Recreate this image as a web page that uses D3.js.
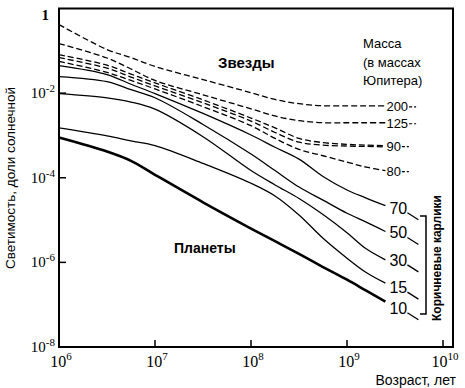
<!DOCTYPE html>
<html>
<head>
<meta charset="utf-8">
<script src="https://cdn.jsdelivr.net/npm/d3@7"></script>
<style>
  body { margin: 0; background: #fff; }
  svg text { fill: #000; }
</style>
</head>
<body>
<div class="container"></div>
<script>
var w = 465;
var h = 388;

// log10 of age (years) – shared sampling for all tracks
const logAge = [6, 6.5, 6.75, 7, 7.5, 8, 8.25, 8.5, 8.75, 9, 9.2, 9.4];

// log10 of luminosity (solar units), one array per mass
const m200 = [-0.38, -0.97, -1.16, -1.37, -1.68, -1.99, -2.15, -2.25, -2.30, -2.30, -2.30, -2.30];
const m125 = [-0.83, -1.17, -1.43, -1.70, -2.04, -2.37, -2.54, -2.65, -2.70, -2.70, -2.70, -2.70];
const m90a = [-1.09, -1.34, -1.55, -1.76, -2.16, -2.59, -2.82, -3.07, -3.17, -3.21, -3.23, -3.24];
const m90b = [-1.16, -1.41, -1.62, -1.83, -2.23, -2.66, -2.93, -3.16, -3.23, -3.25, -3.26, -3.27];
const m80  = [-1.25, -1.51, -1.70, -1.90, -2.32, -2.77, -3.07, -3.33, -3.48, -3.63, -3.75, -3.83];
const m70  = [-1.35, -1.56, -1.79, -2.01, -2.48, -2.99, -3.28, -3.56, -3.97, -4.29, -4.48, -4.66];
const m50  = [-1.61, -1.73, -1.92, -2.11, -2.74, -3.44, -3.83, -4.22, -4.53, -4.84, -5.05, -5.27];
const m30  = [-2.01, -2.11, -2.21, -2.38, -3.03, -3.83, -4.17, -4.49, -4.87, -5.30, -5.68, -5.94];
const m15  = [-2.82, -3.01, -3.13, -3.24, -3.66, -4.13, -4.43, -4.88, -5.43, -5.90, -6.24, -6.49];
const m10  = [-3.05, -3.38, -3.60, -3.93, -4.58, -5.20, -5.50, -5.80, -6.11, -6.41, -6.67, -6.93];

const dashedTracks = [["200", m200], ["125", m125], ["90", m90a], ["", m90b], ["80", m80]];
const solidTracks = [["70", m70], ["50", m50], ["30", m30], ["15", m15], ["10", m10]];

const xTickExp = [6, 7, 8, 9, 10];
const yTickExp = [0, -2, -4, -6, -8];

var plotL = 59, plotR = 453, plotT = 8.5, plotB = 347;

var svg = d3.select(".container").append("svg")
  .attr("width", w).attr("height", h);

var xScale = d3.scaleLog().domain([1e6, Math.pow(10, 10.104)]).range([plotL, plotR]);
var yScale = d3.scaleLog().domain([1, 1e-8]).range([plotT, plotB]);

var line = d3.line()
  .x(d => xScale(Math.pow(10, d[0])))
  .y(d => yScale(Math.pow(10, d[1])))
  .curve(d3.curveCatmullRom.alpha(0.5));

function pts(vals) { return logAge.map((a, i) => [a, vals[i]]); }

// frame
svg.append("rect")
  .attr("x", plotL).attr("y", plotT)
  .attr("width", plotR - plotL).attr("height", plotB - plotT)
  .attr("fill", "none").attr("stroke", "#000").attr("stroke-width", 2);

// ticks (inward)
svg.append("g").selectAll("line").data(yTickExp.slice(1, 4)).enter().append("line")
  .attr("x1", plotL).attr("x2", plotL + 7)
  .attr("y1", d => yScale(Math.pow(10, d))).attr("y2", d => yScale(Math.pow(10, d)))
  .attr("stroke", "#000").attr("stroke-width", 1.5);

svg.append("g").selectAll("line").data(xTickExp.slice(1)).enter().append("line")
  .attr("x1", d => xScale(Math.pow(10, d))).attr("x2", d => xScale(Math.pow(10, d)))
  .attr("y1", plotB).attr("y2", plotB - 7)
  .attr("stroke", "#000").attr("stroke-width", 1.5);

// tick labels
var serif = "'Liberation Serif', 'Times New Roman', serif";
yTickExp.forEach(function (e) {
  var y = yScale(Math.pow(10, e));
  if (e === 0) {
    svg.append("text").attr("x", 49).attr("y", 20).attr("text-anchor", "end")
      .attr("font-family", serif).attr("font-size", 15).attr("font-weight", "bold").text("1");
    return;
  }
  var t = svg.append("text").attr("x", 55).attr("y", y + 5).attr("text-anchor", "end")
    .attr("font-family", serif).attr("font-size", 15);
  t.append("tspan").text("10");
  t.append("tspan").attr("dy", -6).attr("font-size", 11).text("-" + Math.abs(e));
});
xTickExp.forEach(function (e) {
  var x = xScale(Math.pow(10, e));
  var t = svg.append("text").attr("x", x + 2).attr("y", 367).attr("text-anchor", "middle")
    .attr("font-family", serif).attr("font-size", 16);
  t.append("tspan").text("10");
  t.append("tspan").attr("dy", -7).attr("font-size", 11).text(e);
});

// tracks
var sans = "'Liberation Sans', Arial, sans-serif";
var narrow = "'Liberation Sans Narrow', 'Liberation Sans', Arial, sans-serif";

dashedTracks.forEach(function (t) {
  svg.append("path").attr("d", line(pts(t[1])))
    .attr("fill", "none").attr("stroke", "#000").attr("stroke-width", 1.3)
    .attr("stroke-dasharray", "6,3");
  if (!t[0]) return;
  var xe = xScale(Math.pow(10, logAge[logAge.length - 1]));
  var ye = yScale(Math.pow(10, t[1][t[1].length - 1]));
  var lab = svg.append("text").attr("x", xe + 1).attr("y", ye + 5)
    .attr("font-family", sans).attr("font-size", 13).text(t[0]);
  var lw = lab.node().getComputedTextLength();
  svg.append("line").attr("x1", xe + lw + 2).attr("x2", xe + lw + 9)
    .attr("y1", ye + 1).attr("y2", ye + 1)
    .attr("stroke", "#000").attr("stroke-width", 1.2).attr("stroke-dasharray", "3,2");
});

const solidLabelShift = [2, 1, 0, 4, 6];
solidTracks.forEach(function (t, i) {
  svg.append("path").attr("d", line(pts(t[1])))
    .attr("fill", "none").attr("stroke", "#000")
    .attr("stroke-width", t[0] === "10" ? 2.6 : 1.3);
  var xe = xScale(Math.pow(10, logAge[logAge.length - 1]));
  var c = yScale(Math.pow(10, t[1][t[1].length - 1])) + solidLabelShift[i];
  svg.append("text").attr("x", xe + 4).attr("y", c + 6)
    .attr("font-family", narrow).attr("font-size", 16).text(t[0]);
  svg.append("line").attr("x1", xe + 22).attr("y1", c + 5)
    .attr("x2", xe + 33).attr("y2", c + 12)
    .attr("stroke", "#000").attr("stroke-width", 1.3);
});

// bracket for brown dwarfs
svg.append("path")
  .attr("d", "M420,216 H426 V314 H420")
  .attr("fill", "none").attr("stroke", "#000").attr("stroke-width", 1.5);

svg.append("text")
  .attr("transform", "translate(441,258) rotate(-90)")
  .attr("text-anchor", "middle")
  .attr("font-family", sans).attr("font-size", 12).attr("font-weight", "bold")
  .text("Коричневые карлики");

// annotations
svg.append("text").attr("x", 218).attr("y", 68)
  .attr("font-family", sans).attr("font-size", 15).attr("font-weight", "bold").text("Звезды");
svg.append("text").attr("x", 174).attr("y", 253)
  .attr("font-family", sans).attr("font-size", 14).attr("font-weight", "bold").text("Планеты");

["Масса", "(в массах", "Юпитера)"].forEach(function (s, i) {
  svg.append("text").attr("x", 363).attr("y", [48, 67, 85][i])
    .attr("font-family", sans).attr("font-size", 13).text(s);
});

// axis titles
svg.append("text").attr("x", 456).attr("y", 385).attr("text-anchor", "end")
  .attr("font-family", sans).attr("font-size", 14).text("Возраст, лет");

svg.append("text")
  .attr("transform", "translate(15,178) rotate(-90)")
  .attr("text-anchor", "middle")
  .attr("font-family", sans).attr("font-size", 13.5)
  .text("Светимость, доли солнечной");
</script>
</body>
</html>
